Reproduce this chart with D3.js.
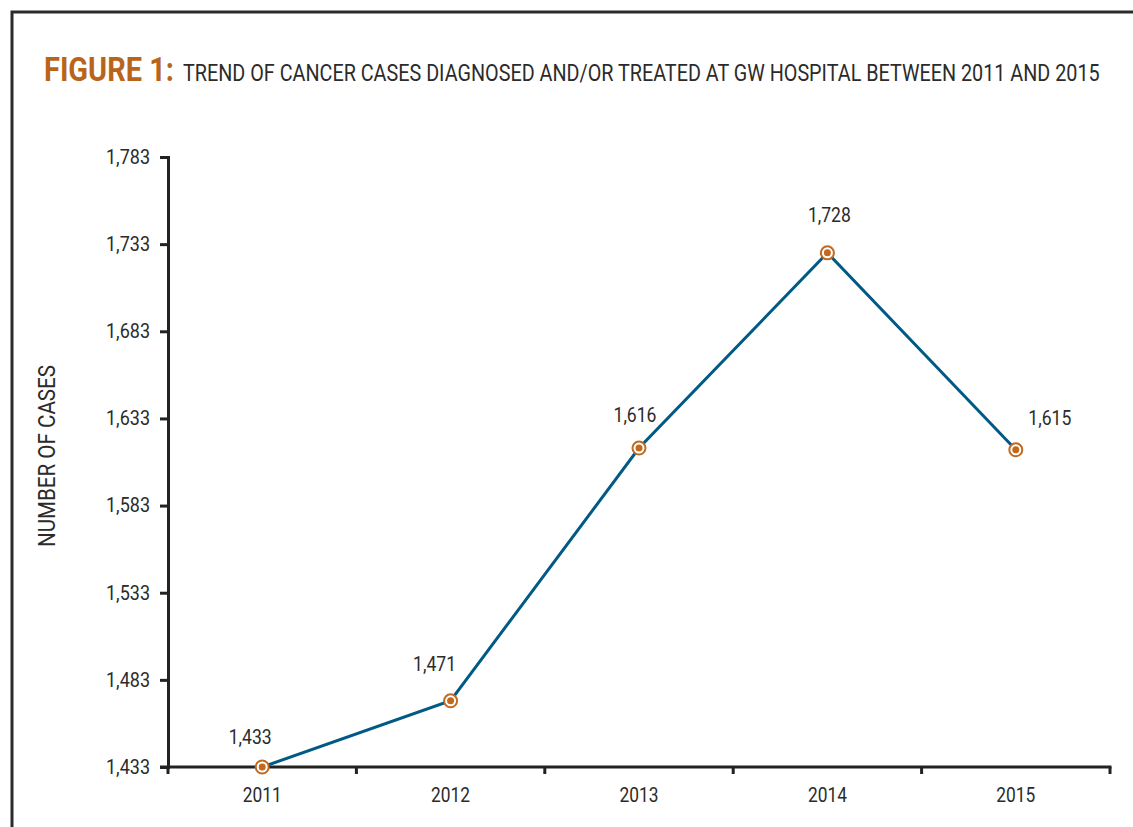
<!DOCTYPE html>
<html>
<head>
<meta charset="utf-8">
<script src="https://cdn.jsdelivr.net/npm/d3@7"></script>
<style>
  body { margin: 0; background: #fff; }
  text { font-family: Roboto, "DejaVu Sans Condensed", sans-serif; }
</style>
</head>
<body>
<div id="chart"></div>
<script>
// data
var years = ["2011", "2012", "2013", "2014", "2015"];
var cases = [1433, 1471, 1616, 1728, 1615];
var yTicks = [1433, 1483, 1533, 1583, 1633, 1683, 1733, 1783];
// label offsets (dx, dy) relative to each point
var labelPos = [[-12, -23], [-16, -30], [-4, -26], [2, -31], [34, -25]];

var W = 1133, H = 827;
var svg = d3.select("#chart")
  .append("svg")
    .attr("width", W)
    .attr("height", H);

// frame
svg.append("path")
  .attr("d", "M12," + (H + 10) + " L12,12 L" + (W + 10) + ",12")
  .attr("fill", "none")
  .attr("stroke", "#2b2b2b")
  .attr("stroke-width", 3);

// squeeze a text horizontally so it spans a given width
function squeeze(sel, x0, y0, width) {
  var w = sel.node().getComputedTextLength();
  sel.attr("transform", "translate(" + x0 + "," + y0 + ") scale(" + (width / w) + ",1)");
}

// title
var fig = svg.append("text")
  .attr("font-size", 34)
  .attr("font-weight", "bold")
  .attr("fill", "#b8651b")
  .text("FIGURE 1:");
squeeze(fig, 44, 81, 130);
var sub = svg.append("text")
  .attr("font-size", 24)
  .attr("fill", "#2b2b2b")
  .text("TREND OF CANCER CASES DIAGNOSED AND/OR TREATED AT GW HOSPITAL BETWEEN 2011 AND 2015");
squeeze(sub, 183, 81, 917);

var margin = {left: 168, right: 1110, top: 157, bottom: 767};

var x = d3.scaleBand()
  .domain(years)
  .range([margin.left, margin.right]);

var y = d3.scaleLinear()
  .domain([1433, 1783])
  .range([margin.bottom, margin.top]);

// y axis
var yAxis = svg.append("g")
  .attr("transform", "translate(" + margin.left + ",0)")
  .call(d3.axisLeft(y).tickValues(yTicks).tickFormat(d3.format(",")).tickSize(8).tickPadding(10));
yAxis.select(".domain").attr("stroke", "#222").attr("stroke-width", 3);
yAxis.selectAll(".tick line").attr("stroke", "#222").attr("stroke-width", 3);
yAxis.selectAll(".tick text")
  .attr("font-size", 20)
  .attr("fill", "#2b2b2b")
  .attr("font-family", "Roboto, sans-serif")
  .attr("textLength", 44)
  .attr("lengthAdjust", "spacingAndGlyphs");

// x axis with ticks at band edges
var xAxis = svg.append("g")
  .attr("transform", "translate(0," + margin.bottom + ")");
xAxis.append("line")
  .attr("x1", margin.left - 8).attr("x2", margin.right + 1.5)
  .attr("stroke", "#222").attr("stroke-width", 3);
var edges = years.map(function(d) { return x(d); }).concat([margin.right]);
xAxis.selectAll(".edge")
  .data(edges)
  .enter().append("line")
    .attr("class", "edge")
    .attr("x1", function(d) { return d; })
    .attr("x2", function(d) { return d; })
    .attr("y1", 0).attr("y2", 7)
    .attr("stroke", "#222").attr("stroke-width", 3);
xAxis.selectAll(".xlab")
  .data(years)
  .enter().append("text")
    .attr("class", "xlab")
    .attr("x", function(d) { return x(d) + x.bandwidth() / 2; })
    .attr("y", 35)
    .attr("text-anchor", "middle")
    .attr("font-size", 20)
    .attr("fill", "#2b2b2b")
    .attr("textLength", 39)
    .attr("lengthAdjust", "spacingAndGlyphs")
    .text(function(d) { return d; });

// y label
svg.append("text")
  .attr("transform", "translate(55,456) rotate(-90)")
  .attr("text-anchor", "middle")
  .attr("font-size", 24)
  .attr("fill", "#2b2b2b")
  .attr("textLength", 182)
  .attr("lengthAdjust", "spacingAndGlyphs")
  .text("NUMBER OF CASES");

// line
var points = years.map(function(d, i) { return {year: d, v: cases[i], i: i}; });
var line = d3.line()
  .x(function(d) { return x(d.year) + x.bandwidth() / 2; })
  .y(function(d) { return y(d.v); });

svg.append("path")
  .datum(points)
  .attr("d", line)
  .attr("fill", "none")
  .attr("stroke", "#005a85")
  .attr("stroke-width", 3);

// markers
var marks = svg.selectAll(".mark")
  .data(points)
  .enter().append("g")
    .attr("class", "mark")
    .attr("transform", function(d) { return "translate(" + (x(d.year) + x.bandwidth() / 2) + "," + y(d.v) + ")"; });
marks.append("circle").attr("r", 6.5).attr("fill", "#fff").attr("stroke", "#c0691f").attr("stroke-width", 2);
marks.append("circle").attr("r", 3.5).attr("fill", "#c0691f");

// value labels
svg.selectAll(".vlab")
  .data(points)
  .enter().append("text")
    .attr("class", "vlab")
    .attr("x", function(d) { return x(d.year) + x.bandwidth() / 2 + labelPos[d.i][0]; })
    .attr("y", function(d) { return y(d.v) + labelPos[d.i][1]; })
    .attr("text-anchor", "middle")
    .attr("font-size", 20)
    .attr("fill", "#2b2b2b")
    .attr("textLength", 43)
    .attr("lengthAdjust", "spacingAndGlyphs")
    .text(function(d) { return d3.format(",")(d.v); });
</script>
</body>
</html>
